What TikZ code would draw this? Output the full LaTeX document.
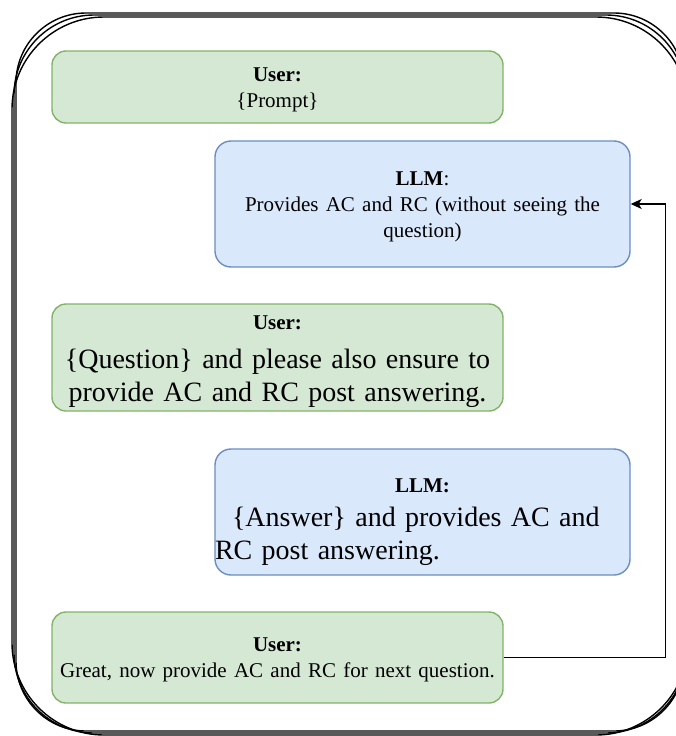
\documentclass[tikz,border=0pt]{standalone}
\usepackage{fontspec}
\setmainfont{Liberation Serif}
\usetikzlibrary{arrows.meta,calc}
\definecolor{gfill}{HTML}{D5E8D4}
\definecolor{gdraw}{HTML}{82B366}
\definecolor{bfill}{HTML}{DAE8FC}
\definecolor{bdraw}{HTML}{6C8EBF}
\newcommand{\txtS}{\fontsize{21}{26}\selectfont\spaceskip=0.345em plus 0.1em\relax}
\newcommand{\txtL}{\fontsize{28}{33}\selectfont\spaceskip=0.335em plus 0.1em\relax}
\tikzset{
  userbox/.style={draw=gdraw, fill=gfill, line width=1.4pt, rounded corners=14pt,
    minimum width=451pt, inner sep=0pt},
  llmbox/.style={draw=bdraw, fill=bfill, line width=1.4pt, rounded corners=16pt,
    minimum width=415pt, inner sep=0pt},
  utext/.style={inner sep=0pt, text width=451pt},
  ltext/.style={inner sep=0pt, text width=415pt},
  sketch/.style={draw=black, line width=1.4pt},
  loop/.style={draw=black, line width=1.3pt, -{Stealth[length=11pt,width=10pt,inset=3pt]}}
}
\begin{document}
\begin{tikzpicture}[x=1pt,y=-1pt]
\useasboundingbox (0,0) rectangle (675,736);
% sketchy outer frame
\draw[sketch, rounded corners=80pt] (14,15) rectangle (686,733);
\draw[sketch, rounded corners=70pt] (16,13) rectangle (684,731);
\draw[sketch, rounded corners=92pt] (12,17) rectangle (688,735);
% boxes
\node[userbox, minimum height=72pt] (b1) at (277.5,87) {};
\node[llmbox, minimum height=126pt] (b2) at (422.5,204) {};
\node[userbox, minimum height=107pt] (b3) at (277.5,357.5) {};
\node[llmbox, minimum height=126pt] (b4) at (422.5,512) {};
\node[userbox, minimum height=91pt] (b5) at (277.5,657.5) {};
% texts
\node[utext] (t1) at ($(b1.center)+(0,2.5)$)
  {\centering{\txtS\textbf{User:}\par}{\txtS\{Prompt\}\par}};
\node[ltext] (t2) at ($(b2.center)+(0,3)$)
  {\centering{\txtS\textbf{LLM}:\par}{\txtS Provides AC and RC (without seeing the\\question)\par}};
\node[utext] (t3) at ($(b3.center)+(0,4)$)
  {\centering{\txtS\textbf{User:}\par}\vspace{6pt}{\txtL\{Question\} and please also ensure to\\provide AC and RC post answering.\par}};
\node[ltext] (t4) at ($(b4.center)+(0,10.5)$)
  {{\centering\txtS\textbf{LLM:}\par}\vspace{1pt}{\raggedright\txtL\hspace*{17pt}\{Answer\} and provides AC and\\RC post answering.\par}};
\node[utext] (t5) at ($(b5.center)+(0,2)$)
  {\centering{\txtS\textbf{User:}\par}{\txtS Great, now provide AC and RC for next question.\par}};
% loop back arrow
\coordinate (turn) at (665.5,204);
\draw[loop] (b5.east) -| (turn) -- (b2.east);
\end{tikzpicture}
\end{document}
